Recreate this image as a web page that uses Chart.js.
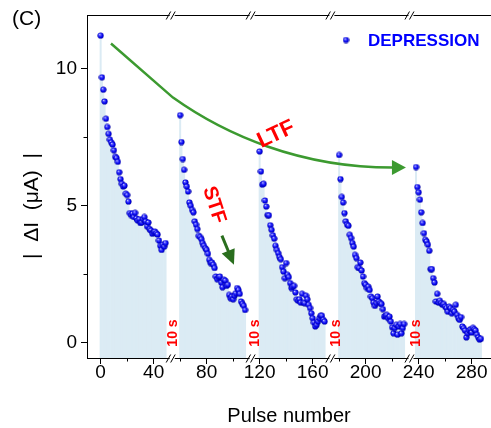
<!DOCTYPE html>
<html>
<head>
<meta charset="utf-8">
<script src="https://cdn.jsdelivr.net/npm/chart.js@4"></script>
<style>
  html, body { margin: 0; padding: 0; background: #fff; }
</style>
</head>
<body>
<canvas id="myChart" width="491" height="428"></canvas>
<script>
// five trains of 50 pulses, separated by 10 s rest
const segmentStarts = [0, 60, 120, 180, 238];

const seg1 = [11.2, 9.68, 9.23, 8.8, 8.17, 7.87, 7.62, 7.41, 7.31, 7.23, 7.02, 6.78, 6.74, 6.6, 6.22, 5.97, 5.8, 5.7, 5.73, 5.44,
  5.39, 5.15, 4.73, 4.66, 4.71, 4.59, 4.74, 4.54, 4.46, 4.51, 4.37, 4.39, 4.51, 4.59, 4.43, 4.25, 4.39, 4.15, 4.1, 3.98,
  4.04, 4.06, 4.0, 3.95, 3.73, 3.54, 3.39, 3.58, 3.51, 3.64];
const seg2 = [8.3, 7.32, 6.7, 6.31, 5.85, 5.7, 5.52, 5.12, 5.0, 4.85, 4.76, 4.43, 4.31, 4.15, 3.9, 3.86, 3.78, 3.64, 3.54, 3.45,
  3.39, 3.25, 3.03, 2.91, 2.93, 2.85, 2.73, 2.42, 2.32, 2.4, 2.42, 2.2, 2.03, 2.3, 2.27, 2.08, 2.12, 1.75, 1.63, 1.69,
  1.59, 1.72, 1.81, 2.0, 1.93, 1.79, 1.51, 1.42, 1.35, 1.2];
const seg3 = [6.98, 6.25, 5.77, 5.8, 5.19, 4.97, 4.66, 4.65, 4.29, 4.12, 3.92, 3.8, 3.54, 3.39, 3.27, 3.13, 3.05, 2.76, 2.6, 2.36,
  2.91, 2.48, 2.4, 2.18, 2.0, 2.05, 2.08, 1.84, 1.59, 1.54, 1.59, 1.47, 1.79, 1.47, 1.45, 1.72, 1.59, 1.39, 1.27, 1.08,
  0.9, 0.74, 0.6, 0.66, 0.78, 0.9, 0.99, 0.99, 0.84, 0.78];
const seg4 = [6.85, 5.97, 5.32, 5.12, 4.73, 4.43, 4.31, 4.27, 3.94, 3.82, 3.64, 3.51, 3.21, 3.09, 2.76, 2.73, 2.93, 2.64, 2.42, 2.18,
  2.12, 2.0, 2.05, 1.93, 1.69, 1.63, 1.47, 1.35, 1.45, 1.69, 1.51, 1.45, 1.42, 1.23, 0.96, 0.99, 1.02, 0.9, 0.96, 0.78,
  0.57, 0.35, 0.54, 0.66, 0.3, 0.6, 0.69, 0.35, 0.54, 0.69];
const seg5 = [6.41, 5.68, 5.49, 5.22, 4.76, 4.37, 4.0, 3.76, 3.7, 3.58, 3.36, 2.69, 2.69, 2.36, 2.2, 1.51, 1.79, 1.47, 1.54, 1.45,
  1.39, 1.42, 1.32, 1.27, 1.14, 1.32, 1.27, 1.08, 1.2, 1.14, 1.39, 1.02, 0.9, 0.84, 0.94, 0.6, 0.54, 0.45, 0.2, 0.35,
  0.45, 0.5, 0.38, 0.55, 0.5, 0.45, 0.3, 0.2, 0.12, 0.15];

const segments = [seg1, seg2, seg3, seg4, seg5];

const xTicks = [0, 40, 80, 120, 160, 200, 240, 280];
const xMinorTicks = [20, 60, 100, 140, 180, 220, 260];
const yTicks = [0, 5, 10];
const yMinorTicks = [2.5, 7.5];

const breakPulses = [54, 114.3, 174.5, 234.2];
const restLabelPulses = [54, 115.7, 177, 237];
const restLabel = "10 s";

const yMin = -0.55;
const yMax = 11.95;

const points = [];
segments.forEach((seg, s) => {
  seg.forEach((v, i) => points.push({ x: segmentStarts[s] + i, y: v }));
});

function makeSphere() {
  const c = document.createElement("canvas");
  c.width = 7;
  c.height = 7;
  const g = c.getContext("2d");
  const grad = g.createRadialGradient(2.6, 2.4, 0, 3.5, 3.5, 3.4);
  grad.addColorStop(0, "#e8e8ff");
  grad.addColorStop(0.25, "#5a5aff");
  grad.addColorStop(0.65, "#0000f0");
  grad.addColorStop(1, "#000090");
  g.fillStyle = grad;
  g.beginPath();
  g.arc(3.5, 3.5, 3.1, 0, Math.PI * 2);
  g.fill();
  return c;
}
const sphere = makeSphere();

function arrowHead(ctx, tipX, tipY, angle, len, half) {
  ctx.save();
  ctx.translate(tipX, tipY);
  ctx.rotate(angle);
  ctx.beginPath();
  ctx.moveTo(0, 0);
  ctx.lineTo(-len, -half);
  ctx.lineTo(-len, half);
  ctx.closePath();
  ctx.fill();
  ctx.restore();
}

const decorations = {
  id: "decorations",
  afterDraw(chart) {
    const { ctx, chartArea } = chart;
    const x = chart.scales.x;
    const y = chart.scales.y;
    const px = (v) => x.getPixelForValue(v);
    const py = (v) => y.getPixelForValue(v);

    ctx.save();

    // top frame
    ctx.strokeStyle = "#000";
    ctx.lineWidth = 1;
    ctx.beginPath();
    ctx.moveTo(chartArea.left, chartArea.top + 0.5);
    ctx.lineTo(chartArea.right, chartArea.top + 0.5);
    ctx.stroke();

    // minor ticks
    ctx.beginPath();
    xMinorTicks.forEach((t) => {
      const xx = Math.round(px(t)) + 0.5;
      ctx.moveTo(xx, chartArea.bottom);
      ctx.lineTo(xx, chartArea.bottom + 3.5);
    });
    yMinorTicks.forEach((t) => {
      const yy = Math.round(py(t)) + 0.5;
      ctx.moveTo(chartArea.left, yy);
      ctx.lineTo(chartArea.left - 3.5, yy);
    });
    ctx.stroke();

    // axis breaks
    breakPulses.forEach((p) => {
      const bx = px(p);
      [chartArea.top + 0.5, chartArea.bottom + 0.5].forEach((by) => {
        ctx.fillStyle = "#fff";
        ctx.fillRect(bx - 2.5, by - 1.5, 5, 3);
        ctx.beginPath();
        ctx.moveTo(bx - 6, by + 4);
        ctx.lineTo(bx - 1.5, by - 4);
        ctx.moveTo(bx - 1.5, by + 4);
        ctx.lineTo(bx + 3, by - 4);
        ctx.stroke();
      });
    });

    // "10 s" rest labels
    ctx.fillStyle = "#ff0000";
    ctx.font = "bold 14px 'Liberation Sans', Arial, sans-serif";
    ctx.textAlign = "center";
    ctx.textBaseline = "middle";
    restLabelPulses.forEach((p) => {
      ctx.save();
      ctx.translate(px(p), py(0.36));
      ctx.rotate(-Math.PI / 2);
      ctx.fillText(restLabel, 0, 1);
      ctx.restore();
    });

    // LTF arrow
    ctx.strokeStyle = "#3c9a30";
    ctx.fillStyle = "#3c9a30";
    ctx.lineWidth = 2.5;
    ctx.beginPath();
    ctx.moveTo(px(7.8), py(10.91));
    ctx.lineTo(px(54.6), py(8.94));
    ctx.bezierCurveTo(px(93.8), py(7.59), px(150.4), py(6.39), px(220), py(6.39));
    ctx.stroke();
    arrowHead(ctx, px(230.4), py(6.39), 0, 14, 7.5);

    ctx.fillStyle = "#ff0000";
    ctx.font = "bold 22px 'Liberation Sans', Arial, sans-serif";
    ctx.save();
    ctx.translate(px(132.1), py(7.63));
    ctx.rotate(-25 * Math.PI / 180);
    ctx.fillText("LTF", 0, 1);
    ctx.restore();

    // STF arrow
    ctx.font = "bold 20px 'Liberation Sans', Arial, sans-serif";
    ctx.save();
    ctx.translate(px(86.3), py(5.04));
    ctx.rotate(72 * Math.PI / 180);
    ctx.fillText("STF", 0, 1);
    ctx.restore();

    const sx0 = px(91.5), sy0 = py(3.91), sx1 = px(100.6), sy1 = py(2.85);
    const ang = Math.atan2(sy1 - sy0, sx1 - sx0);
    ctx.strokeStyle = "#2a6e1e";
    ctx.fillStyle = "#2a6e1e";
    ctx.lineWidth = 3;
    ctx.beginPath();
    ctx.moveTo(sx0, sy0);
    ctx.lineTo(sx1 - 10 * Math.cos(ang), sy1 - 10 * Math.sin(ang));
    ctx.stroke();
    arrowHead(ctx, sx1, sy1, ang, 15, 7);

    // legend
    ctx.drawImage(sphere, 342.5, 36.5);
    ctx.fillStyle = "#0000ff";
    ctx.font = "bold 17px 'Liberation Sans', Arial, sans-serif";
    ctx.textAlign = "left";
    ctx.textBaseline = "alphabetic";
    ctx.fillText("DEPRESSION", 368, 46);

    // panel letter
    ctx.fillStyle = "#000";
    ctx.font = "21px 'Liberation Sans', Arial, sans-serif";
    ctx.fillText("(C)", 12, 25);

    // y axis title
    ctx.font = "21px 'Liberation Sans', Arial, sans-serif";
    ctx.textAlign = "center";
    ctx.textBaseline = "middle";
    ctx.save();
    ctx.translate(32, 206);
    ctx.rotate(-Math.PI / 2);
    ctx.fillText("|  ΔI  (μA)  |", 0, 0);
    ctx.restore();

    ctx.restore();
  },
};

const tickFont = { family: "'Liberation Sans', Arial, sans-serif", size: 19, lineHeight: 1 };

new Chart(document.getElementById("myChart"), {
  type: "scatter",
  data: {
    datasets: [
      {
        type: "scatter",
        label: "DEPRESSION",
        data: points,
        pointStyle: sphere,
        pointRadius: 3.5,
        order: 1,
      },
      {
        type: "bar",
        label: "fill",
        data: points,
        backgroundColor: "#dbebf4",
        borderWidth: 0,
        barPercentage: 1,
        categoryPercentage: 1,
        base: yMin,
        order: 2,
      },
    ],
  },
  options: {
    responsive: false,
    animation: false,
    devicePixelRatio: 1,
    layout: { autoPadding: false, padding: { top: 15, right: 0, bottom: 0, left: 0 } },
    plugins: { legend: { display: false }, tooltip: { enabled: false } },
    scales: {
      x: {
        type: "linear",
        offset: false,
        min: -10.3,
        max: 294.6,
        z: 1,
        afterFit: (scale) => {
          scale.height = 70;
          scale.paddingLeft = 0;
          scale.paddingRight = 0;
        },
        afterBuildTicks: (scale) => { scale.ticks = xTicks.map((v) => ({ value: v })); },
        border: { display: true, color: "#000", width: 1 },
        grid: { offset: false, drawOnChartArea: false, drawTicks: true, tickLength: 6, tickColor: "#000" },
        ticks: { color: "#000", font: tickFont, padding: -1, maxRotation: 0 },
        title: {
          display: true,
          text: "Pulse number",
          color: "#000",
          font: { family: "'Liberation Sans', Arial, sans-serif", size: 20, lineHeight: 1.2 },
          padding: { top: 0, bottom: 0 },
        },
      },
      y: {
        type: "linear",
        min: yMin,
        max: yMax,
        z: 1,
        afterFit: (scale) => { scale.width = 87; },
        afterBuildTicks: (scale) => { scale.ticks = yTicks.map((v) => ({ value: v })); },
        border: { display: true, color: "#000", width: 1 },
        grid: { drawOnChartArea: false, drawTicks: true, tickLength: 6, tickColor: "#000" },
        ticks: { color: "#000", font: tickFont, padding: 4 },
      },
    },
  },
  plugins: [decorations],
});
</script>
</body>
</html>
